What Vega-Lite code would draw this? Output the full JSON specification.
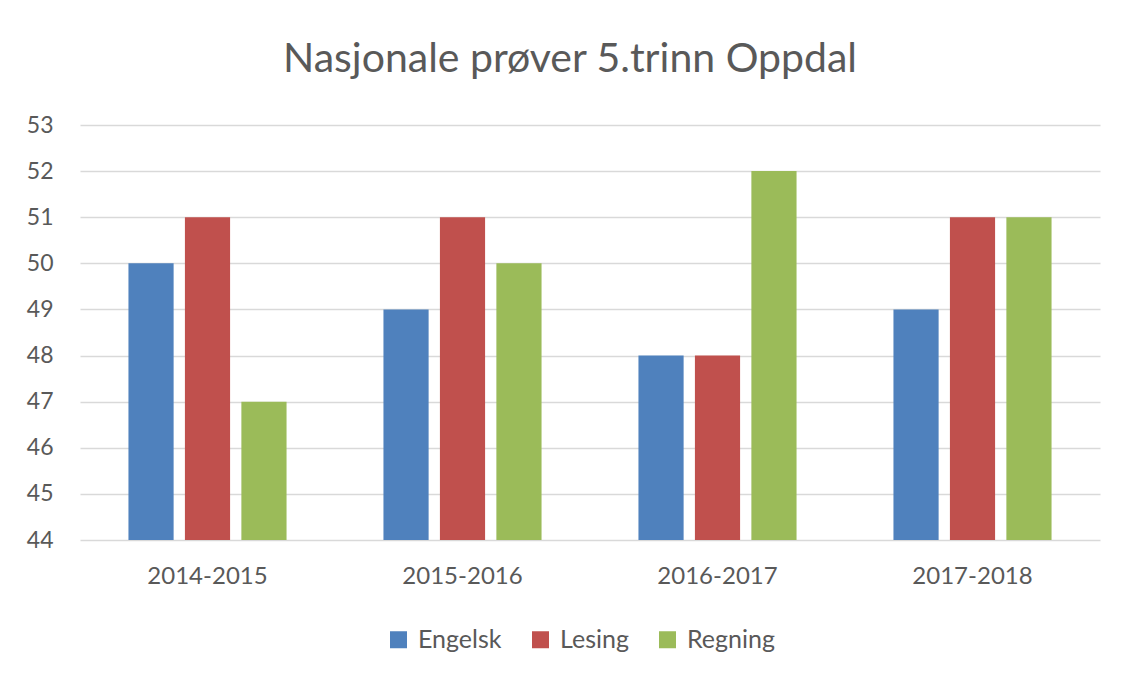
{
  "$schema": "https://vega.github.io/schema/vega-lite/v6.json",
  "autosize": "none",
  "width": 1020,
  "height": 415,
  "padding": {"left": 80, "top": 125, "right": 26, "bottom": 137},
  "background": "white",
  "title": {
    "text": "Nasjonale prøver 5.trinn Oppdal",
    "font": "Lato",
    "fontSize": 41,
    "fontWeight": "normal",
    "color": "#595959",
    "anchor": "middle",
    "frame": "group",
    "dx": -20,
    "offset": 33
  },
  "data": {
    "values": [
      {"year": "2014-2015", "fag": "Engelsk", "score": 50},
      {"year": "2014-2015", "fag": "Lesing", "score": 51},
      {"year": "2014-2015", "fag": "Regning", "score": 47},
      {"year": "2015-2016", "fag": "Engelsk", "score": 49},
      {"year": "2015-2016", "fag": "Lesing", "score": 51},
      {"year": "2015-2016", "fag": "Regning", "score": 50},
      {"year": "2016-2017", "fag": "Engelsk", "score": 48},
      {"year": "2016-2017", "fag": "Lesing", "score": 48},
      {"year": "2016-2017", "fag": "Regning", "score": 52},
      {"year": "2017-2018", "fag": "Engelsk", "score": 49},
      {"year": "2017-2018", "fag": "Lesing", "score": 51},
      {"year": "2017-2018", "fag": "Regning", "score": 51}
    ]
  },
  "mark": {"type": "bar", "clip": true},
  "encoding": {
    "x": {
      "field": "year",
      "type": "nominal",
      "scale": {"paddingInner": 0.38, "paddingOuter": 0.19},
      "axis": {
        "title": null,
        "labelAngle": 0,
        "ticks": false,
        "domain": false,
        "labelFont": "Lato",
        "labelFontSize": 24,
        "labelColor": "#595959",
        "labelPadding": 24
      }
    },
    "xOffset": {
      "field": "fag",
      "type": "nominal",
      "scale": {"paddingInner": 0.2, "paddingOuter": 0}
    },
    "y": {
      "field": "score",
      "type": "quantitative",
      "scale": {"domain": [44, 53], "zero": false, "nice": false},
      "axis": {
        "title": null,
        "values": [44, 45, 46, 47, 48, 49, 50, 51, 52, 53],
        "ticks": false,
        "domain": false,
        "labelFont": "Lato",
        "labelFontSize": 23,
        "labelColor": "#595959",
        "labelPadding": 27,
        "gridColor": "#D9D9D9",
        "gridWidth": 1.5
      }
    },
    "color": {
      "field": "fag",
      "type": "nominal",
      "scale": {
        "domain": ["Engelsk", "Lesing", "Regning"],
        "range": ["#4F81BD", "#C0504D", "#9BBB59"]
      },
      "legend": {
        "title": null,
        "orient": "none",
        "direction": "horizontal",
        "legendX": 306,
        "legendY": 502,
        "symbolType": "square",
        "symbolSize": 289,
        "symbolStrokeWidth": 0,
        "labelFont": "Lato",
        "labelFontSize": 25,
        "labelColor": "#595959",
        "labelOffset": 7,
        "columnPadding": 26
      }
    }
  },
  "config": {
    "view": {"stroke": null}
  }
}
